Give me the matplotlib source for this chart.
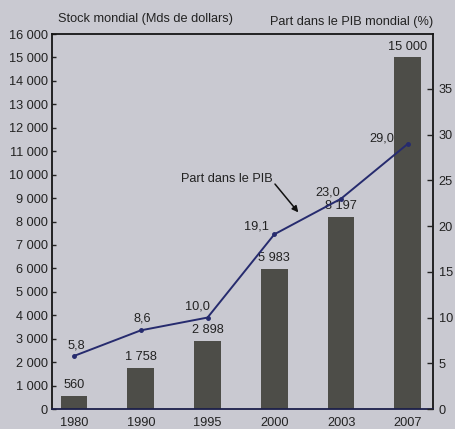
import matplotlib.pyplot as plt
import numpy as np

plt.rcParams["font.family"] = ["Liberation Sans", "DejaVu Sans"]

years = ["1980", "1990", "1995", "2000", "2003", "2007"]
stock = [560, 1758, 2898, 5983, 8197, 15000]
share = [5.8, 8.6, 10.0, 19.1, 23.0, 29.0]

left_ticks = list(range(0, 16001, 1000))
right_ticks = list(range(0, 36, 5))

bg = "#c9c9d1"
bar_color = "#4d4d48"
line_color = "#262b6e"
fs = 9.2


def fr_thousands(v):
    return f"{v:,}".replace(",", " ")


fig = plt.figure(figsize=(4.56, 4.29), dpi=100, facecolor=bg)
ax = fig.add_axes([0.114, 0.0466, 0.836, 0.874], facecolor=bg)
ax2 = ax.twinx()

x = np.arange(len(years))
ax.bar(x, stock, width=0.4, color=bar_color, zorder=2)
for xi, v in zip(x, stock):
    ax.annotate(fr_thousands(v), (xi, v), xytext=(0, 3.5), textcoords="offset points",
                ha="center", va="bottom", fontsize=fs, color="#222222")

ax.set_xlim(-0.33, 5.38)
ax.set_ylim(0, 16000)
ax.set_yticks(left_ticks)
ax.set_yticklabels([fr_thousands(t) for t in left_ticks])
ax.set_xticks(x)
ax.set_xticklabels(years)
ax.tick_params(axis="y", direction="in", length=3, width=1, labelsize=fs, pad=3,
               colors="#222222")
ax.tick_params(axis="x", length=0, labelsize=fs, pad=6, colors="#222222")
for s in ax.spines.values():
    s.set_linewidth(1.3)
    s.set_color("#151515")
ax.spines["bottom"].set_color("#1c1f4a")

ax2.plot(x, share, color=line_color, lw=1.4, marker="o", markersize=2.5, zorder=3)
label_offsets = [(1.4, 7.2), (1.4, 8.6), (-7.2, 7.9), (-13, 5.8), (-9.4, 4.3), (-18.7, 3.6)]
for xi, v, off in zip(x, share, label_offsets):
    ax2.annotate(f"{v:.1f}".replace(".", ","), (xi, v), xytext=off,
                 textcoords="offset points", ha="center", va="center",
                 fontsize=fs, color="#222222")
ax2.set_ylim(0, 41.0)
ax2.set_yticks(right_ticks)
ax2.tick_params(axis="y", direction="in", length=4, width=1, labelsize=fs, pad=4,
                colors="#222222")
for s in ax2.spines.values():
    s.set_visible(False)

ax2.annotate("", xy=(3.36, 21.5), xytext=(3.01, 24.6),
             arrowprops=dict(arrowstyle="-|>", color="#111111", lw=1.1,
                             mutation_scale=9, shrinkA=0, shrinkB=0))
ax2.text(2.29, 25.2, "Part dans le PIB", ha="center", va="center", fontsize=fs,
         color="#222222")

fig.text(0.32, 0.955, "Stock mondial (Mds de dollars)", ha="center", va="center",
         fontsize=fs, color="#222222")
fig.text(0.772, 0.948, "Part dans le PIB mondial (%)", ha="center", va="center",
         fontsize=fs, color="#222222")

fig.savefig("out.png", dpi=100, facecolor=bg)
